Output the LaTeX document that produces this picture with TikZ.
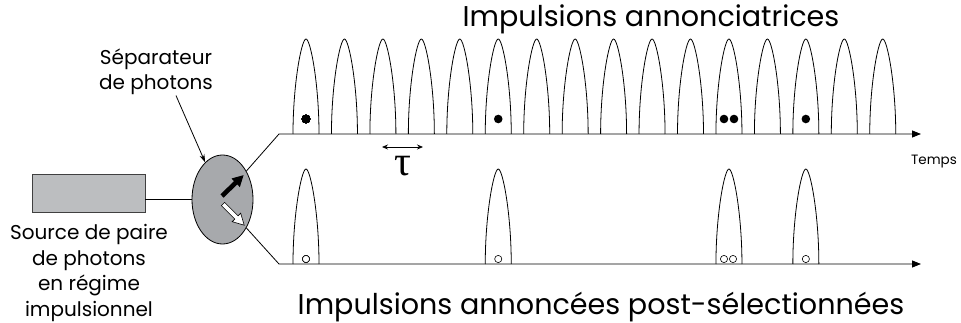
\documentclass[tikz,border=0pt]{standalone}
\usepackage{fontspec}
\setmainfont{Poppins}
\newfontfamily\greekfont{Liberation Serif}
\usepackage{tikz}
\usetikzlibrary{arrows.meta,positioning,calc,shapes.geometric}
\usepackage{xcolor}
\definecolor{srcgray}{HTML}{BCBEC0}
\definecolor{sepgray}{HTML}{A7A9AC}
% une impulsion : centre, ligne de base
\newcommand{\pulse}[2]{\draw (#1-13,#2) .. controls (#1-13,#2-50) and (#1-4.5,#2-95) .. (#1,#2-95) .. controls (#1+4.5,#2-95) and (#1+13,#2-50) .. (#1+13,#2);}

\begin{document}
\begin{tikzpicture}[x=1pt, y=-1pt, line width=0.8pt,
    title/.style={font=\fontsize{28.6}{30}\selectfont, anchor=base},
    lbl/.style={font=\fontsize{20}{25.5}\selectfont, align=center, inner sep=0pt},
    axis/.style={-{Triangle[length=9pt,width=7pt]}},
    photon/.style={fill=black},
    herald/.style={draw=black, fill=white, line width=0.6pt},
    blkarrow/.pic={\path[pic actions] (0,-2.3) -- (19,-2.3) -- (19,-6) -- (30,0) -- (19,6) -- (19,2.3) -- (0,2.3) -- cycle;}
]
\useasboundingbox (0,0) rectangle (961,323);

% source et séparateur
\node[draw=black!75, fill=srcgray, minimum width=113pt, minimum height=38pt, inner sep=0pt] (src) at (88.5,193) {};
\node[ellipse, draw=black, fill=sepgray, minimum width=61pt, minimum height=89pt, inner sep=0pt] (sep) at (222.5,199.5) {};
\pic[rotate=44, fill=black] (blk) at (222,196) {blkarrow};
\pic[rotate=-45, fill=white, draw=black, line width=0.6pt] (wht) at (223,204) {blkarrow};

\node[lbl] (srclbl) at (89,273) {Source de paire\\de photons\\en régime\\impulsionnel};
\node[lbl] (seplbl) at (156,72) {Séparateur\\de photons};
\draw[-{Stealth[length=8pt,width=5pt]}] ([xshift=20pt]seplbl.south) -- (sep.115);

\draw (src.east |- sep.west) -- (sep.west);

% axes du temps
\coordinate (t0) at (279,134);
\coordinate (t1) at (921,134);
\coordinate (b0) at (279,264);
\coordinate (b1) at (921,264);
\draw[axis] (sep.50) -- (t0) -- (t1);
\draw[axis] (sep.-50) -- (b0) -- (b1);

% impulsions annonciatrices
\foreach \i [evaluate=\i as \c using 306+38.45*\i] in {0,...,15}
    \pulse{\c}{134}
\fill[photon] (306,119) circle (4.3);
\fill[photon] (498.25,119) circle (4.3);
\fill[photon] (724,119) circle (4.3);
\fill[photon] (734,119) circle (4.3);
\fill[photon] (805.85,119) circle (4.3);

% impulsions annoncées
\foreach \i [evaluate=\i as \c using 306+38.45*\i] in {0,5,11,13}
    \pulse{\c}{264}
\draw[herald] (306,259) circle (3.6);
\draw[herald] (498.25,259) circle (3.6);
\draw[herald] (724,259) circle (3.6);
\draw[herald] (733,259) circle (3.6);
\draw[herald] (805.85,259) circle (3.6);

% période
\coordinate (tauL) at (382,147);
\coordinate (tauR) at (423,147);
\draw[{Stealth[length=6pt,width=5pt]}-{Stealth[length=6pt,width=5pt]}] (tauL) -- (tauR);
\node[font=\greekfont\fontsize{42}{42}\selectfont] (tau) at (403,166) {τ};

% titres
\node[title] (toptitle) at (651,27) {Impulsions annonciatrices};
\node[title] (bottitle) at (601,314.5) {Impulsions annoncées post-sélectionnées};
\node[font=\fontsize{13.5}{14}\selectfont, anchor=base] (temps) at (934,165) {Temps};

\end{tikzpicture}
\end{document}
